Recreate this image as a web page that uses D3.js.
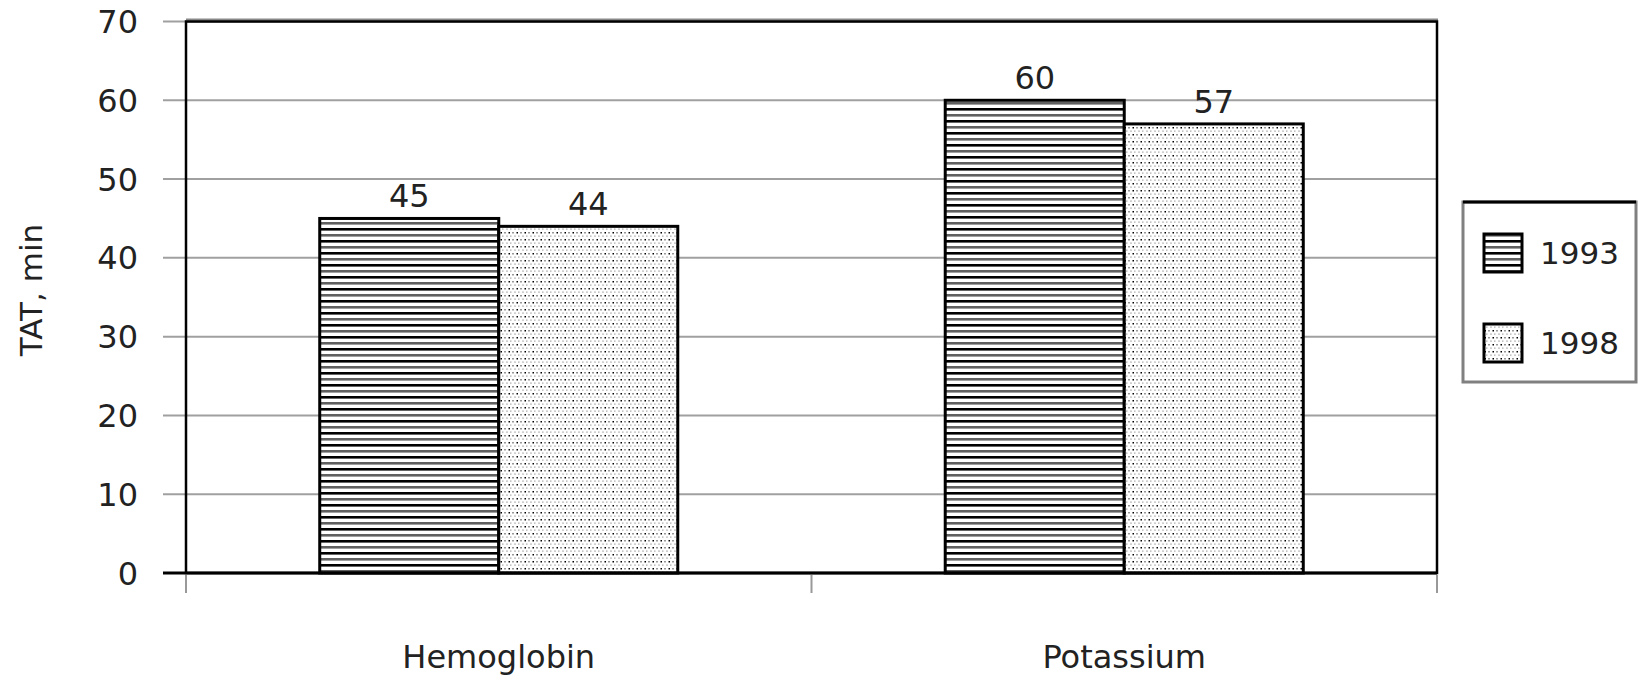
<!DOCTYPE html>
<html>
<head>
<meta charset="utf-8">
<script src="https://cdn.jsdelivr.net/npm/d3@7"></script>
<style>
  body { margin: 0; background: #fff; }
  svg text { font-family: "DejaVu Sans", sans-serif; fill: #222; }
</style>
</head>
<body>
<svg width="1638" height="683"></svg>
<script>
var width = 1638;
var height = 683;

// chart data
var categories = ["Hemoglobin", "Potassium"];
var series = ["1993", "1998"];
var values1993 = [45, 60];
var values1998 = [44, 57];
var yTicks = [0, 10, 20, 30, 40, 50, 60, 70];
var yTitle = "TAT, min";

var svg = d3.select('svg');

// plot area (note: "top" is taken by window.top, so use plot* names)
var plotLeft = 186, plotRight = 1437, plotTop = 21.5, plotBottom = 573;

var x = d3.scaleBand().domain(categories).range([plotLeft, plotRight]).paddingInner(0).paddingOuter(0);
var xInner = d3.scaleBand().domain(series).range([0, x.bandwidth()]).paddingInner(0).paddingOuter(0.747);
var y = d3.scaleLinear().domain([0, 70]).range([plotBottom, plotTop]);

// patterns for the bars
var defs = svg.append("defs");
var stripes = defs.append("pattern")
    .attr("id", "stripes")
    .attr("patternUnits", "userSpaceOnUse")
    .attr("width", 8)
    .attr("height", 12);
stripes.append("rect").attr("width", 8).attr("height", 12).attr("fill", "#fff");
stripes.append("rect").attr("y", 0).attr("width", 8).attr("height", 2.6).attr("fill", "#000");
stripes.append("rect").attr("y", 6).attr("width", 8).attr("height", 2.6).attr("fill", "#606060");

var dots = defs.append("pattern")
    .attr("id", "dots")
    .attr("patternUnits", "userSpaceOnUse")
    .attr("width", 8)
    .attr("height", 7);
dots.append("rect").attr("width", 8).attr("height", 7).attr("fill", "#fff");
[[0, 1, 2, 1.5, "#999"], [4.5, 1, 1.5, 1.5, "#000"],
 [2, 4.5, 2, 1.2, "#bbb"], [6, 4.5, 1.5, 1.2, "#aaa"]].forEach(function (d) {
    dots.append("rect").attr("x", d[0]).attr("y", d[1]).attr("width", d[2]).attr("height", d[3]).attr("fill", d[4]);
});
var fills = { "1993": "url(#stripes)", "1998": "url(#dots)" };

// gridlines and y ticks
svg.append("g")
    .selectAll("line")
    .data(yTicks)
    .enter()
    .append("line")
    .attr("x1", plotLeft - 23)
    .attr("x2", plotRight)
    .attr("y1", function (d) { return y(d); })
    .attr("y2", function (d) { return y(d); })
    .attr("stroke", "#a0a0a0")
    .attr("stroke-width", 2);

svg.append("g")
    .selectAll("text")
    .data(yTicks)
    .enter()
    .append("text")
    .attr("x", plotLeft - 48)
    .attr("y", function (d) { return y(d); })
    .attr("dy", "0.36em")
    .attr("text-anchor", "end")
    .attr("font-size", "32px")
    .text(function (d) { return d; });

// frame
svg.append("line").attr("x1", plotLeft).attr("x2", plotRight + 1).attr("y1", plotTop - 2).attr("y2", plotTop - 2)
    .attr("stroke", "#888").attr("stroke-width", 2);
svg.append("rect")
    .attr("x", plotLeft)
    .attr("y", plotTop)
    .attr("width", plotRight - plotLeft)
    .attr("height", plotBottom - plotTop)
    .attr("fill", "none")
    .attr("stroke", "#000")
    .attr("stroke-width", 2.5);

// bars
var rows = [];
categories.forEach(function (c, i) {
    rows.push({ cat: c, ser: "1993", value: values1993[i] });
    rows.push({ cat: c, ser: "1998", value: values1998[i] });
});

svg.append("g")
    .selectAll("rect")
    .data(rows)
    .enter()
    .append("rect")
    .attr("x", function (d) { return x(d.cat) + xInner(d.ser); })
    .attr("y", function (d) { return y(d.value); })
    .attr("width", xInner.bandwidth())
    .attr("height", function (d) { return y(0) - y(d.value); })
    .attr("fill", function (d) { return fills[d.ser]; })
    .attr("stroke", "#000")
    .attr("stroke-width", 3);

// value labels
svg.append("g")
    .selectAll("text")
    .data(rows)
    .enter()
    .append("text")
    .attr("x", function (d) { return x(d.cat) + xInner(d.ser) + xInner.bandwidth() / 2; })
    .attr("y", function (d) { return y(d.value) - 11; })
    .attr("text-anchor", "middle")
    .attr("font-size", "32px")
    .text(function (d) { return d.value; });

// x axis line and category ticks
svg.append("line").attr("x1", plotLeft - 23).attr("x2", plotRight).attr("y1", plotBottom).attr("y2", plotBottom)
    .attr("stroke", "#000").attr("stroke-width", 3);
var xTicks = categories.map(function (c) { return x(c); }).concat([plotRight]);
svg.append("g")
    .selectAll("line")
    .data(xTicks)
    .enter()
    .append("line")
    .attr("x1", function (d) { return d; })
    .attr("x2", function (d) { return d; })
    .attr("y1", plotBottom + 2)
    .attr("y2", plotBottom + 20)
    .attr("stroke", "#999")
    .attr("stroke-width", 2);

svg.append("g")
    .selectAll("text")
    .data(categories)
    .enter()
    .append("text")
    .attr("x", function (d) { return x(d) + x.bandwidth() / 2; })
    .attr("y", 668)
    .attr("text-anchor", "middle")
    .attr("font-size", "32px")
    .text(function (d) { return d; });

// y axis title
svg.append("text")
    .attr("transform", "translate(42," + 290 + ") rotate(-90)")
    .attr("text-anchor", "middle")
    .attr("font-size", "31px")
    .text(yTitle);

// legend
var legend = svg.append("g");
legend.append("rect")
    .attr("x", 1463)
    .attr("y", 202)
    .attr("width", 173)
    .attr("height", 180)
    .attr("fill", "#fff")
    .attr("stroke", "#808080")
    .attr("stroke-width", 3);
legend.append("line").attr("x1", 1463).attr("x2", 1636).attr("y1", 202).attr("y2", 202)
    .attr("stroke", "#000").attr("stroke-width", 3);

var legendY = d3.scalePoint().domain(series).range([253, 343]);
var items = legend.selectAll(".item")
    .data(series)
    .enter()
    .append("g")
    .attr("class", "item");
items.append("rect")
    .attr("x", 1484)
    .attr("y", function (d) { return legendY(d) - 19; })
    .attr("width", 38)
    .attr("height", 38)
    .attr("fill", function (d) { return fills[d]; })
    .attr("stroke", "#000")
    .attr("stroke-width", 3);
items.append("text")
    .attr("x", 1540)
    .attr("y", function (d) { return legendY(d); })
    .attr("dy", "0.36em")
    .attr("font-size", "31px")
    .text(function (d) { return d; });
</script>
</body>
</html>
